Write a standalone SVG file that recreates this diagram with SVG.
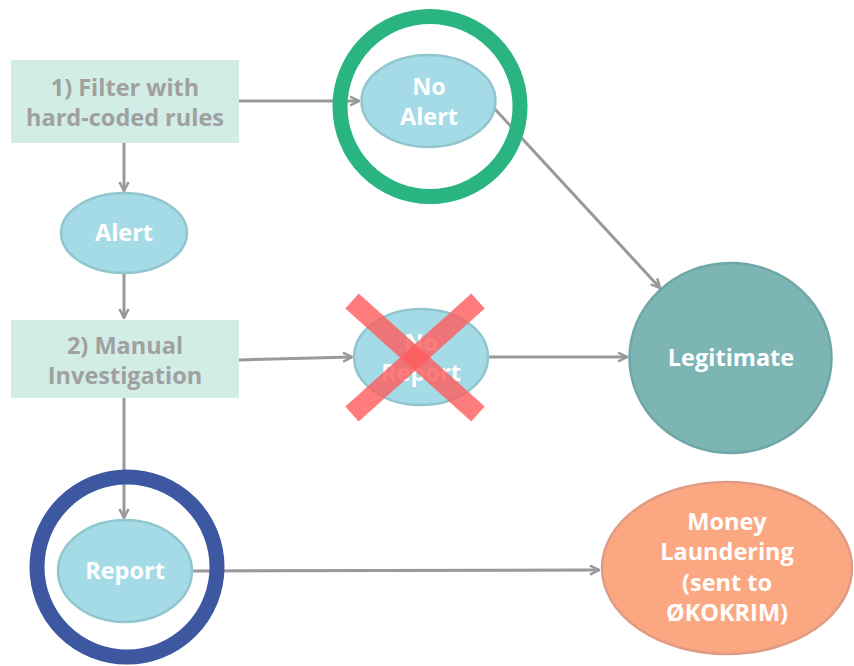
<svg xmlns="http://www.w3.org/2000/svg" width="854" height="666" viewBox="0 0 854 666">
  <defs>
    <marker id="arrow" viewBox="0 0 12 12" refX="11" refY="6" markerWidth="12" markerHeight="12" markerUnits="userSpaceOnUse" orient="auto">
      <polyline points="2,1.5 11,6 2,10.5" fill="none" stroke="#999999" stroke-width="2.5" stroke-linejoin="miter"/>
    </marker>
    <style>
      .edge { fill: none; stroke: #999999; stroke-width: 3; marker-end: url(#arrow); }
      .box { fill: #d1ede5; }
      .oval { fill: #a4dbe7; stroke: #91c6ce; stroke-width: 2.5; }
      .boxtext { font-family: "Open Sans", "Noto Sans", sans-serif; font-weight: bold; font-size: 23.5px; fill: #a0a0a0; text-anchor: middle; }
      .ovaltext { font-family: "Open Sans", "Noto Sans", sans-serif; font-weight: bold; font-size: 23.5px; fill: #ffffff; text-anchor: middle; }
      .ring { fill: none; stroke-width: 15; }
    </style>
  </defs>

  <!-- connectors -->
  <g id="connectors">
    <line class="edge" x1="239" y1="101" x2="359" y2="101"/>
    <line class="edge" x1="124" y1="143" x2="124" y2="191"/>
    <line class="edge" x1="124" y1="273" x2="124" y2="318"/>
    <line class="edge" x1="239" y1="360" x2="352" y2="357"/>
    <line class="edge" x1="488" y1="357" x2="627" y2="357"/>
    <line class="edge" x1="494" y1="108" x2="660" y2="288"/>
    <line class="edge" x1="124" y1="398" x2="124" y2="518"/>
    <line class="edge" x1="192" y1="571" x2="599" y2="570"/>
  </g>

  <!-- step 1 -->
  <g id="filter">
    <rect class="box" x="11" y="60" width="228" height="83"/>
    <text class="boxtext" x="125" y="96">1) Filter with</text>
    <text class="boxtext" x="125" y="126">hard-coded rules</text>
  </g>

  <g id="no-alert">
    <ellipse class="oval" cx="428.5" cy="101" rx="67" ry="46"/>
    <text class="ovaltext" x="429" y="95">No</text>
    <text class="ovaltext" x="429" y="125">Alert</text>
  </g>

  <g id="alert">
    <ellipse class="oval" cx="124" cy="233" rx="63" ry="40"/>
    <text class="ovaltext" x="124" y="241">Alert</text>
  </g>

  <!-- step 2 -->
  <g id="investigation">
    <rect class="box" x="11" y="320" width="228" height="78"/>
    <text class="boxtext" x="125" y="354">2) Manual</text>
    <text class="boxtext" x="125" y="384">Investigation</text>
  </g>

  <g id="no-report">
    <ellipse class="oval" cx="421" cy="357" rx="67" ry="48"/>
    <text class="ovaltext" x="421" y="351">No</text>
    <text class="ovaltext" x="421" y="381">Report</text>
  </g>

  <g id="report">
    <ellipse class="oval" cx="125" cy="571" rx="67" ry="51"/>
    <text class="ovaltext" x="125" y="579">Report</text>
  </g>

  <g id="legitimate">
    <ellipse cx="730.5" cy="358" rx="101" ry="95" fill="#7db5b5" stroke="#6ea7a8" stroke-width="2.5"/>
    <text class="ovaltext" x="731" y="366">Legitimate</text>
  </g>

  <g id="money-laundering">
    <ellipse cx="727" cy="568" rx="125" ry="86" fill="#fba882" stroke="#e09b83" stroke-width="2.5"/>
    <text class="ovaltext" x="727" y="530">Money</text>
    <text class="ovaltext" x="727" y="560">Laundering</text>
    <text class="ovaltext" x="727" y="591">(sent to</text>
    <text class="ovaltext" x="727" y="621">ØKOKRIM)</text>
  </g>

  <!-- highlights -->
  <g id="highlight-no-alert">
    <circle class="ring" cx="430" cy="106.5" r="90" stroke="#29b481"/>
  </g>
  <g id="highlight-report">
    <circle class="ring" cx="127" cy="567" r="90" stroke="#3d58a1"/>
  </g>
  <g id="cross-no-report" stroke="#ff5b5b" stroke-width="20" stroke-opacity="0.8" fill="none">
    <line x1="352" y1="301" x2="478" y2="414"/>
    <line x1="478" y1="301" x2="352" y2="414"/>
  </g>
</svg>
